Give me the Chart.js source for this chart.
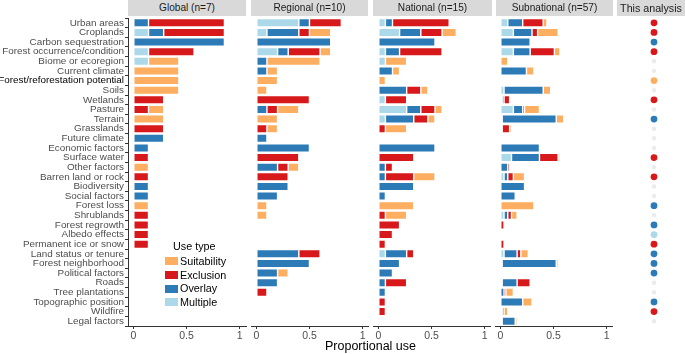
<!DOCTYPE html>
<html>
<head>
<meta charset="utf-8">
<script src="https://cdn.jsdelivr.net/npm/chart.js@4.4.1/dist/chart.umd.min.js"></script>
<style>
  body { margin: 0; background: #fff; font-family: "Liberation Sans", Arial, sans-serif; }
  #wrap { position: relative; width: 685px; height: 354px; overflow: hidden; }
  #wrap canvas { position: absolute; top: 0; }
  .strip { position: absolute; top: 0; height: 16px; background: #d9d9d9; color: #1a1a1a;
           font-size: 10.1px; line-height: 16px; text-align: center; white-space: nowrap; }
  #xtitle { position: absolute; left: 128px; width: 485px; top: 339px; text-align: center;
            font-size: 12.5px; color: #000; }
  #legend { position: absolute; left: 165px; top: 240px; font-size: 10.8px; color: #000; }
  #legend .ttl { margin-left: 8px; height: 15px; }
  #legend .item { height: 13.7px; line-height: 13.7px; white-space: nowrap; }
  #legend .sw { display: inline-block; width: 13px; height: 8px; vertical-align: middle; margin-right: 2px; margin-top: -2px; }
</style>
</head>
<body>
<div id="wrap">
  <canvas id="cGlobal" width="250" height="354" style="left:0px"></canvas>
  <canvas id="cRegional" width="118" height="354" style="left:251px"></canvas>
  <canvas id="cNational" width="118" height="354" style="left:373px"></canvas>
  <canvas id="cSubnational" width="118" height="354" style="left:495px"></canvas>
  <canvas id="cThis" width="68" height="354" style="left:617px"></canvas>
  <div class="strip" style="left:128px;width:118px">Global (n=7)</div>
  <div class="strip" style="left:251px;width:117px">Regional (n=10)</div>
  <div class="strip" style="left:373px;width:119px">National (n=15)</div>
  <div class="strip" style="left:496px;width:117px">Subnational (n=57)</div>
  <div class="strip" style="left:617px;width:68px;font-size:10.7px">This analysis</div>
  <div id="xtitle">Proportional use</div>
  <div id="legend"></div>
</div>
<script>
// categories, top to bottom
const categories = ["Urban areas", "Croplands", "Carbon sequestration", "Forest occurrence/condition",
  "Biome or ecoregion", "Current climate", "Forest/reforestation potential", "Soils", "Wetlands",
  "Pasture", "Terrain", "Grasslands", "Future climate", "Economic factors", "Surface water",
  "Other factors", "Barren land or rock", "Biodiversity", "Social factors", "Forest loss",
  "Shrublands", "Forest regrowth", "Albedo effects", "Permanent ice or snow", "Land status or tenure",
  "Forest neighborhood", "Political factors", "Roads", "Tree plantations", "Topographic position",
  "Wildfire", "Legal factors"];
const highlightCategory = "Forest/reforestation potential";

// stacking order left to right
const useTypes = ["Multiple", "Overlay", "Exclusion", "Suitability"];
const useColors = ["#abd9e9", "#2c7bb6", "#d7191c", "#fdae61"];
const xTicks = [0, 0.5, 1];

// counts of studies per use type (divided by n to get proportions)
const globalN = 7;
const globalMultiple    = [0,1,0,1,1,0,0,0,0,0,0,0,0,0,0,0,0,0,0,0,0,0,0,0,0,0,0,0,0,0,0,0];
const globalOverlay     = [1,1,6,0,0,0,0,0,0,0,0,0,2,1,0,0,0,1,1,0,0,0,0,0,0,0,0,0,0,0,0,0];
const globalExclusion   = [5,4,0,3,0,0,0,0,2,1,0,2,0,0,1,0,1,0,0,0,1,1,1,1,0,0,0,0,0,0,0,0];
const globalSuitability = [0,0,0,0,2,3,3,3,0,1,2,0,0,0,0,1,0,0,0,1,0,0,0,0,0,0,0,0,0,0,0,0];

const regionalN = 10;
const regionalMultiple    = [4,1,0,2,0,0,0,0,0,0,0,0,0,0,0,0,0,0,0,0,0,0,0,0,0,0,0,0,0,0,0,0];
const regionalOverlay     = [1,3,7,1,1,1,0,0,0,1,0,0,1,5,0,2,0,3,2,0,0,0,0,0,4,5,2,2,0,0,0,0];
const regionalExclusion   = [3,1,0,3,0,0,0,0,5,1,0,1,0,0,4,1,3,0,0,0,0,0,0,0,2,0,0,0,1,0,0,0];
const regionalSuitability = [0,2,0,1,5,1,2,1,0,2,2,1,0,0,0,1,0,0,0,1,1,0,0,0,0,0,1,0,0,0,0,0];

const nationalN = 15;
const nationalMultiple    = [1,3,0,1,1,0,0,0,1,4,1,0,0,0,0,0,0,0,0,0,0,0,0,0,1,0,0,0,0,0,0,0];
const nationalOverlay     = [1,3,8,2,0,2,0,4,0,2,4,0,0,8,0,1,1,5,1,0,0,0,0,0,3,3,2,1,1,0,0,0];
const nationalExclusion   = [8,3,0,6,0,0,0,2,3,2,2,1,0,0,5,1,4,0,0,0,1,3,2,1,1,0,0,3,0,1,1,0];
const nationalSuitability = [0,2,0,0,3,1,1,1,0,1,1,3,0,0,0,0,3,0,0,5,3,0,0,0,0,0,0,0,0,0,0,0];

const subnationalN = 57;
const subnationalMultiple    = [4,7,0,7,0,0,0,2,1,7,1,0,0,0,6,0,2,0,0,0,2,0,0,0,2,1,0,1,0,0,1,1];
const subnationalOverlay     = [8,10,16,9,0,14,0,21,1,5,29,1,0,21,15,4,2,13,8,0,2,0,0,0,7,29,0,8,2,12,1,7];
const subnationalExclusion   = [11,3,0,13,0,0,0,0,3,1,0,4,0,0,10,1,3,0,0,0,2,2,0,2,2,0,0,7,1,0,0,0];
const subnationalSuitability = [2,11,0,3,4,4,0,4,0,8,4,1,1,0,1,0,6,0,0,18,3,0,0,0,4,1,0,0,4,5,2,1];

// use type of each factor in this analysis
const thisAnalysis = ["Exclusion","Exclusion","Overlay","Exclusion","None","None","Suitability","None",
  "Exclusion","None","Overlay","None","None","None","Exclusion","None","Exclusion","None","None",
  "Overlay","None","Overlay","Multiple","Exclusion","Overlay","Overlay","Overlay","None","None",
  "Overlay","Exclusion","None"];

Chart.defaults.font.family = '"Liberation Sans", Arial, sans-serif';

function barPanel(id, n, counts, withLabels) {
  const datasets = useTypes.map((t, k) => ({
    label: t,
    data: counts[k].map(c => c ? c / n : null),
    backgroundColor: useColors[k],
    borderColor: "rgba(255,255,255,0.45)",
    borderWidth: 0.7,
    borderSkipped: false,
    categoryPercentage: 1,
    barPercentage: 0.88
  }));
  return new Chart(document.getElementById(id), {
    type: "bar",
    data: { labels: categories, datasets: datasets },
    options: {
      indexAxis: "y",
      responsive: false,
      animation: false,
      layout: { padding: { top: 18, right: withLabels ? 4 : 0, left: 0, bottom: 0 } },
      plugins: { legend: { display: false }, tooltip: { enabled: false } },
      scales: {
        x: {
          stacked: true, min: -0.05, max: 1.06,
          afterBuildTicks: s => { s.ticks = xTicks.map(v => ({ value: v })); },
          afterFit: s => { s.height = 28; },
          ticks: { callback: v => String(v), color: "#4d4d4d", font: { size: 10.5 }, padding: 1, maxRotation: 0 },
          grid: { drawOnChartArea: false, tickLength: 3, tickColor: "#333" },
          border: { color: "#333" }
        },
        y: {
          stacked: true,
          display: withLabels,
          afterFit: s => { if (withLabels) s.width = 128; },
          ticks: {
            autoSkip: false, padding: 1, font: { size: 9.9 },
            color: ctx => categories[ctx.index] === highlightCategory ? "#000" : "#4d4d4d"
          },
          grid: { drawOnChartArea: false, tickLength: 3, tickColor: "#333" },
          border: { color: "#333" }
        }
      }
    }
  });
}

barPanel("cGlobal", globalN, [globalMultiple, globalOverlay, globalExclusion, globalSuitability], true);
barPanel("cRegional", regionalN, [regionalMultiple, regionalOverlay, regionalExclusion, regionalSuitability], false);
barPanel("cNational", nationalN, [nationalMultiple, nationalOverlay, nationalExclusion, nationalSuitability], false);
barPanel("cSubnational", subnationalN, [subnationalMultiple, subnationalOverlay, subnationalExclusion, subnationalSuitability], false);

// this analysis column
function typeColor(t) {
  const k = useTypes.indexOf(t);
  return k < 0 ? "#ebebeb" : useColors[k];
}
new Chart(document.getElementById("cThis"), {
  type: "scatter",
  data: {
    datasets: [{
      data: categories.map(c => ({ x: 0, y: c })),
      pointBackgroundColor: thisAnalysis.map(typeColor),
      pointBorderWidth: 0,
      pointRadius: thisAnalysis.map(t => t === "None" ? 2.2 : 3.4)
    }]
  },
  options: {
    responsive: false,
    animation: false,
    layout: { padding: { top: 18, bottom: 28, left: 0, right: 0 } },
    plugins: { legend: { display: false }, tooltip: { enabled: false } },
    scales: {
      x: { display: false, min: -0.55, max: 0.45 },
      y: { type: "category", labels: categories, offset: true, display: false }
    }
  }
});

// legend (top to bottom: Suitability, Exclusion, Overlay, Multiple)
const legend = document.getElementById("legend");
legend.innerHTML = '<div class="ttl">Use type</div>' + useTypes.slice().reverse().map(t =>
  '<div class="item"><span class="sw" style="background:' + typeColor(t) + '"></span>' + t + '</div>'
).join("");
</script>
</body>
</html>
